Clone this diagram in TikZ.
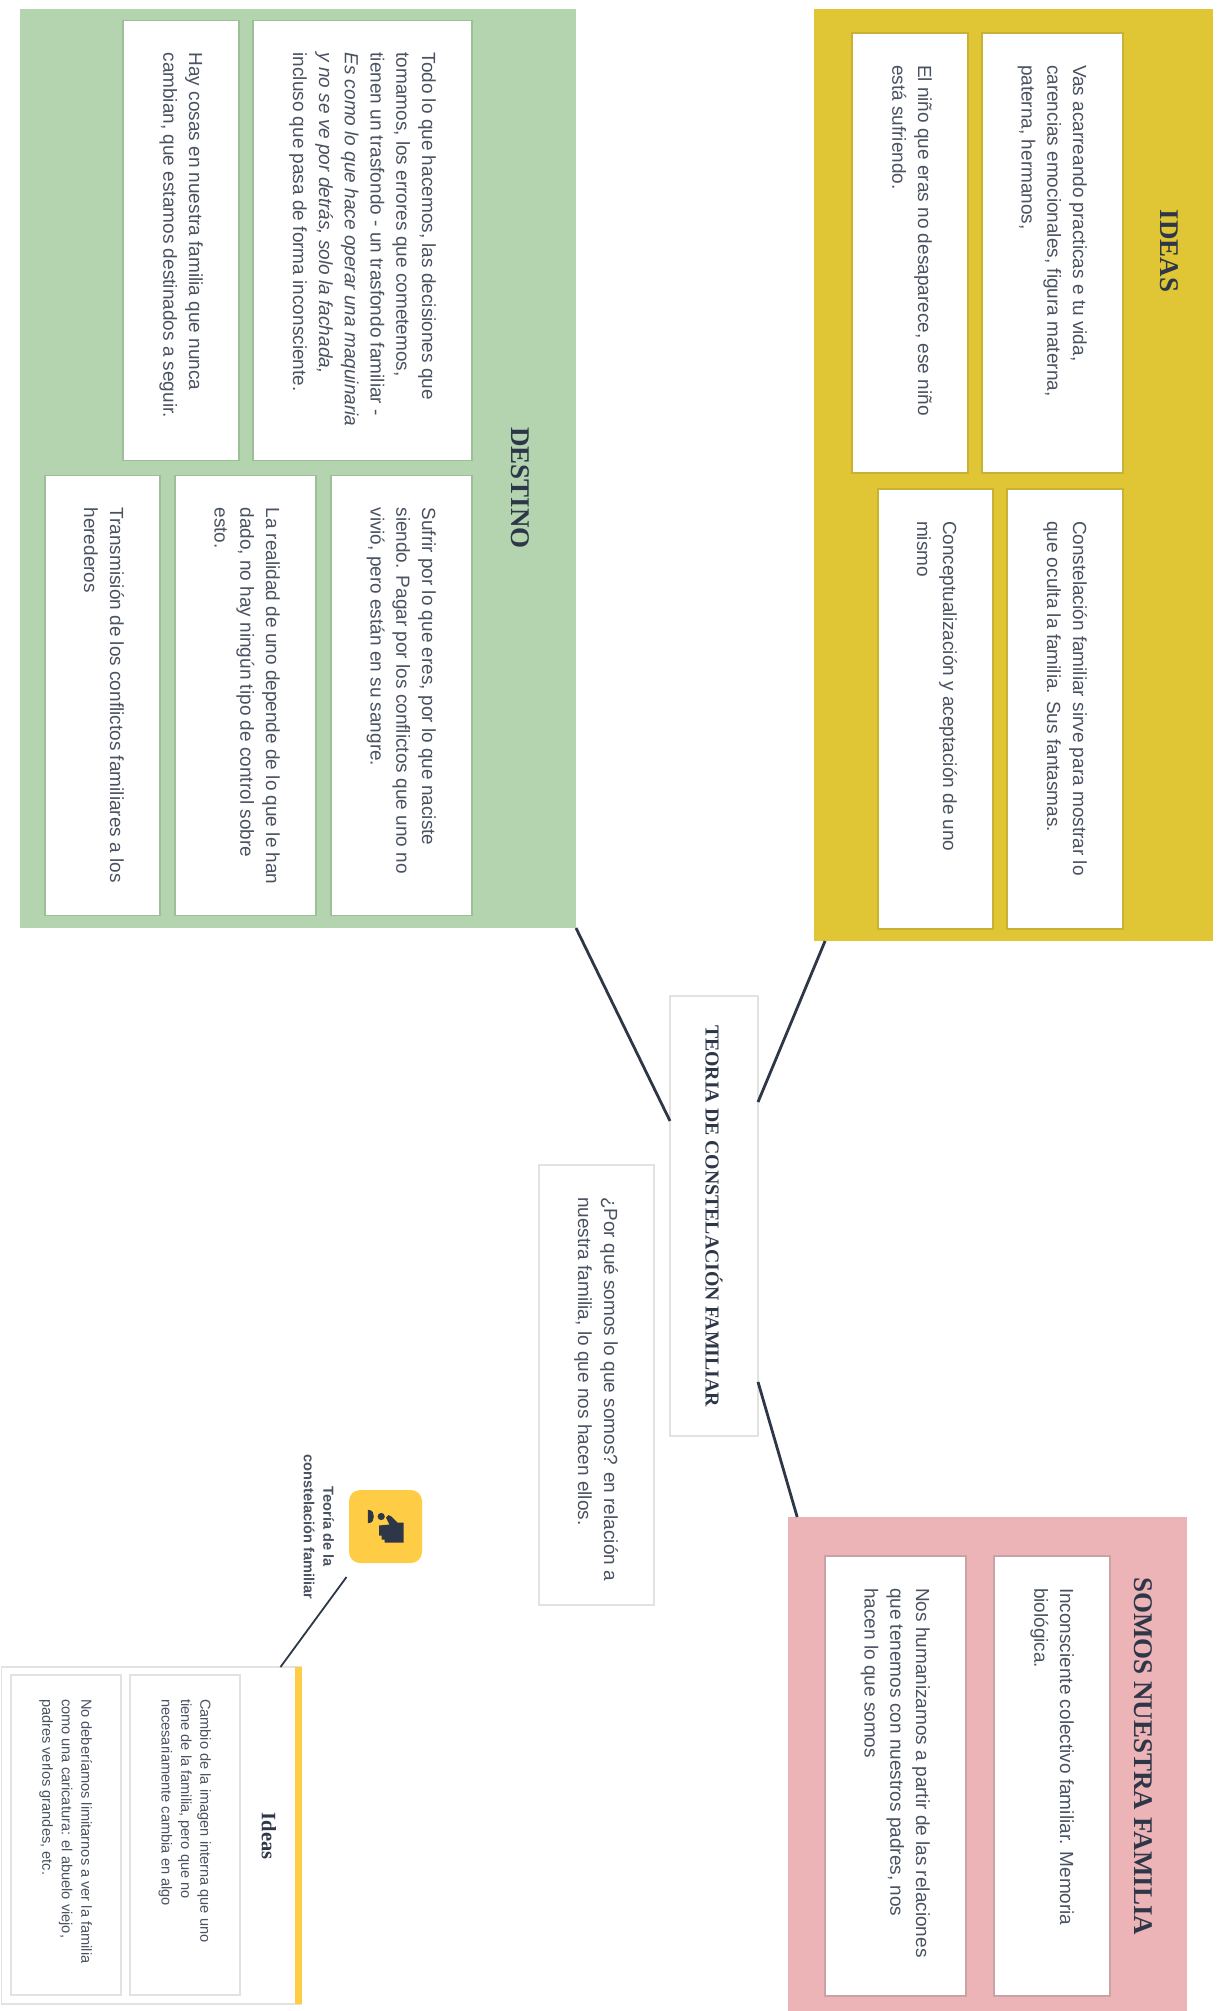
\documentclass[tikz,border=0pt]{standalone}
\usepackage{fontspec}
\setmainfont{Liberation Sans}
\newfontfamily\titlefont{Liberation Serif}
\usetikzlibrary{positioning,calc}
\definecolor{inkdark}{HTML}{2D3748}
\definecolor{inkbody}{HTML}{4A5261}
\definecolor{greenbg}{HTML}{B3D4AE}
\definecolor{greenln}{HTML}{9CBF98}
\definecolor{goldbg}{HTML}{E0C635}
\definecolor{goldln}{HTML}{C9B136}
\definecolor{pinkbg}{HTML}{EDB4B8}
\definecolor{pinkln}{HTML}{C9A2A5}
\definecolor{greyln}{HTML}{E2E2E2}
\definecolor{iconbg}{HTML}{FFCD45}
\tikzset{
  panel/.style={minimum width=#1, anchor=north west, inner sep=0pt, outer sep=0pt},
  card/.style={draw=#1, line width=1.3pt, fill=white, inner sep=0pt, outer sep=0pt, anchor=north west},
  head/.style={font=\titlefont\bfseries\fontsize{27}{30}\selectfont, text=inkdark, inner sep=0pt},
  link/.style={draw=inkdark, line width=2.8pt},
  thinlink/.style={draw=inkdark, line width=1.8pt}
}
% text block: width, height, text
\newcommand{\cardtext}[3]{\parbox[c][#2pt][t]{#1pt}{\vspace{36pt}\leftskip=32pt\rightskip=0pt plus 1fil\parindent=0pt\fontsize{19}{25.8}\selectfont\color{inkbody}#3\par}}
\newcommand{\minitext}[3]{\parbox[c][#2pt][t]{#1pt}{\vspace{29pt}\leftskip=24pt\rightskip=0pt plus 1fil\parindent=0pt\fontsize{14.6}{19.4}\selectfont\color{inkbody}#3\par}}
\begin{document}
\begin{tikzpicture}[rotate=-90, transform shape, x=1pt, y=1pt]
  % the whole picture is laid out lying on its side: (page y, page x)
  \path[use as bounding box] (0,0) rectangle (2011,1219);

  % destino
  \node (destino) [panel=919pt, minimum height=556pt, fill=greenbg] at (9,576) {};
  \node (destinoHead) at (488,520) [head] {DESTINO};
  \node (todo) [card=greenln] at (20.5,472) {\cardtext{440}{219}{Todo lo que hacemos, las decisiones que\\tomamos, los errores que cometemos,\\tienen un trasfondo - un trasfondo familiar -\\\textit{Es como lo que hace operar una maquinaria}\\\textit{y no se ve por detrás, solo la fachada,}\\incluso que pasa de forma inconsciente.}};
  \node (cosas) [card=greenln, below=14pt of todo] {\cardtext{440}{116}{Hay cosas en nuestra familia que nunca\\cambian, que estamos destinados a seguir.}};
  \node (sufrir) [card=greenln, right=15pt of todo.north east, anchor=north west] {\cardtext{440}{141}{Sufrir por lo que eres, por lo que naciste\\siendo. Pagar por los conflictos que uno no\\vivió, pero están en su sangre.}};
  \node (realidad) [card=greenln, below=15pt of sufrir] {\cardtext{440}{141}{La realidad de uno depende de lo que le han\\dado, no hay ningún tipo de control sobre\\esto.}};
  \node (herederos) [card=greenln, below=15pt of realidad] {\cardtext{440}{115}{Transmisión de los conflictos familiares a los\\herederos}};

  % ideas
  \node (ideas) [panel=932pt, minimum height=399pt, fill=goldbg] at (9,1212.5) {};
  \node (ideasHead) at (251,1169) [head] {IDEAS};
  \node (vas) [card=goldln] at (33,1123) {\cardtext{440}{141}{Vas acarreando practicas e tu vida,\\carencias emocionales, figura materna,\\paterna, hermanos,}};
  \node (nino) [card=goldln, below=14pt of vas] {\cardtext{440}{116}{El niño que eras no desaparece, ese niño\\está sufriendo.}};
  \node (oculta) [card=goldln, right=16pt of vas.north east, anchor=north west] {\cardtext{440}{116}{Constelación familiar sirve para mostrar lo\\que oculta la familia. Sus fantasmas.}};
  \node (mismo) [card=goldln, below=14pt of oculta] {\cardtext{440}{115}{Conceptualización y aceptación de uno\\mismo}};

  % centro
  \node (centro) [card=greyln] at (996,758) {\parbox[c][88pt][c]{440pt}{\centering\titlefont\bfseries\fontsize{19.8}{24}\selectfont\color{inkdark}TEORIA DE CONSTELACIÓN FAMILIAR}};
  \node (pregunta) [card=greyln] at (1165,654) {\cardtext{440}{115}{¿Por qué somos lo que somos? en relación a\\nuestra familia, lo que nos hacen ellos.}};

  % familia
  \node (familia) [panel=494pt, minimum height=399pt, fill=pinkbg] at (1517,1187) {};
  \node (familiaHead) at (1756,1143) [head] {SOMOS NUESTRA FAMILIA};
  \node (inconsciente) [card=pinkln] at (1556,1110) {\cardtext{440}{116}{Inconsciente colectivo familiar. Memoria\\biológica.}};
  \node (humanizamos) [card=pinkln, below=28pt of inconsciente] {\cardtext{440}{141}{Nos humanizamos a partir de las relaciones\\que tenemos con nuestros padres, nos\\hacen lo que somos}};

  % icono
  \node (icono) [fill=iconbg, rounded corners=11pt, minimum width=73pt, minimum height=73pt, inner sep=0pt, outer sep=0pt, anchor=north west] at (1490,422) {};
  \begin{scope}[shift={(icono.center)}]
    \fill[inkdark] (-16.7,-17.7) -- (-3.3,-17.7) .. controls (-3.3,-12.5) and (-7,-11.7) .. (-10,-11.7) .. controls (-13,-11.7) and (-16.7,-12.5) .. (-16.7,-17.7) -- cycle;
    \fill[inkdark] (-10,-4.3) circle[radius=3.6];
    \fill[inkdark] (-1,-6.5) -- (-2,4) -- (-9,0.5) -- (-11.5,3) -- (-10,6) -- (-4,12) -- (-4,18) -- (16,18) -- (16,-1) -- (13,-1) -- (13,-4) -- (9,-4) -- (9,-6.5) -- cycle;
  \end{scope}
  \node (iconoLabel) [font=\bfseries\fontsize{14.6}{19.5}\selectfont, text=inkbody, align=center, inner sep=0pt] at (1527,319) {Teoría de la\\constelación familiar};

  % tarjeta de ideas
  \node (tarjeta) [card=greyln, minimum width=337pt, minimum height=300pt] at (1667,301.5) {};
  \fill[iconbg] (tarjeta.north west) rectangle ($(tarjeta.north east)+(0,-6.5)$);
  \node (tarjetaHead) at (1836,269) [font=\titlefont\bfseries\fontsize{20.5}{24}\selectfont, text=inkdark, inner sep=0pt] {Ideas};
  \node (cambio) [card=greyln] at (1675,240) {\minitext{320}{110}{Cambio de la imagen interna que uno\\tiene de la familia, pero que no\\necesariamente cambia en algo}};
  \node (limitarnos) [card=greyln, below=9pt of cambio] {\minitext{320}{110}{No deberíamos limitarnos a ver la familia\\como una caricatura: el abuelo viejo,\\padres verlos grandes, etc.}};

  % conectores
  \draw[link] (destino.north east) -- ($(centro.south west)!0.284!(centro.south east)$);
  \draw[link] ($(centro.north west)!0.241!(centro.north east)$) -- ($(ideas.south east)!0.029!(ideas.north east)$);
  \draw[link] ($(centro.north west)!0.877!(centro.north east)$) -- ($(familia.south west)!0.023!(familia.north west)$);
  \draw[thinlink] ($(icono.south east)+(14,-2.5)$) -- ($(tarjeta.north west)!0.07!(tarjeta.south west)$);
\end{tikzpicture}
\end{document}
